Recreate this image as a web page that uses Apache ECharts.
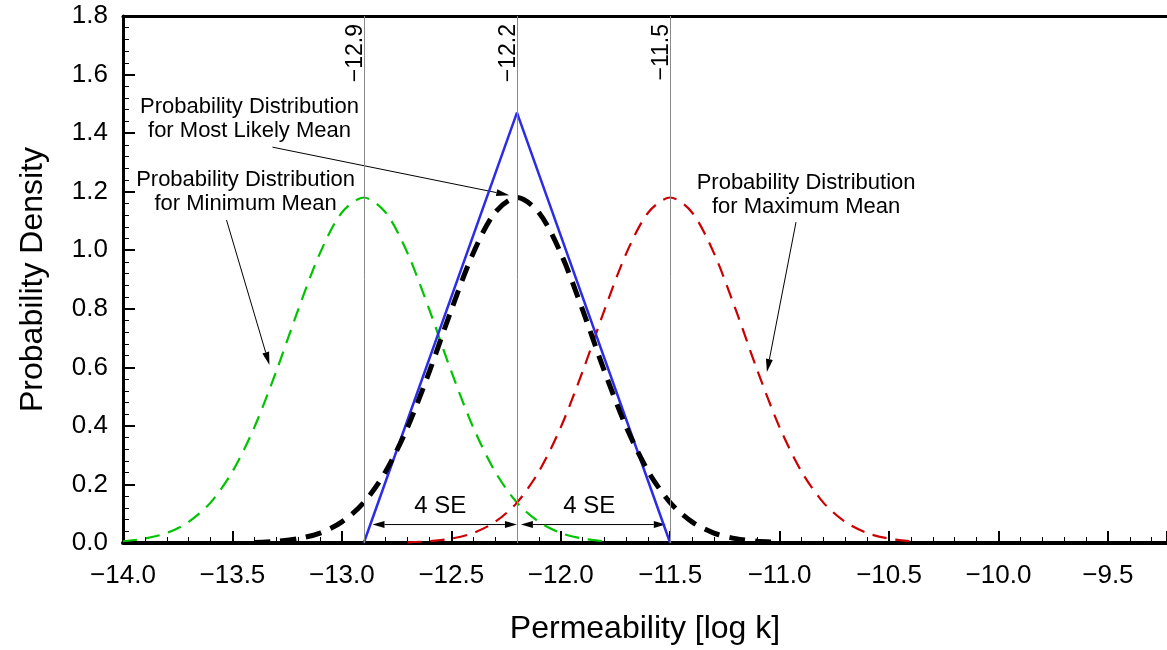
<!DOCTYPE html>
<html><head><meta charset="utf-8">
<script src="https://cdn.jsdelivr.net/npm/echarts@6/dist/echarts.min.js"></script>
<style>html,body{margin:0;padding:0;background:#fff}#c{width:1167px;height:650px}</style>
</head><body><div id="c"></div>
<script>
// ---- data ----
const xRange = [-14, -9.23];
const yRange = [0, 1.8];
const greenX = [-14.0,-13.9,-13.8,-13.7,-13.6,-13.5,-13.4,-13.3,-13.2,-13.1,-13.0,-12.9,-12.8,-12.7,-12.6,-12.5,-12.4,-12.3,-12.2,-12.1,-12.0,-11.9,-11.8];
const greenY = [0.006,0.015,0.034,0.072,0.138,0.244,0.395,0.586,0.796,0.990,1.129,1.180,1.129,0.990,0.796,0.586,0.395,0.244,0.138,0.072,0.034,0.015,0.006];
const blackX = [-13.4,-13.3,-13.2,-13.1,-13.0,-12.9,-12.8,-12.7,-12.6,-12.5,-12.4,-12.3,-12.2,-12.1,-12.0,-11.9,-11.8,-11.7,-11.6,-11.5,-11.4,-11.3,-11.2,-11.1,-11.0];
const blackY = [0.002,0.006,0.015,0.034,0.072,0.138,0.244,0.395,0.586,0.796,0.990,1.129,1.180,1.129,0.990,0.796,0.586,0.395,0.244,0.138,0.072,0.034,0.015,0.006,0.002];
const redX = [-12.7,-12.6,-12.5,-12.4,-12.3,-12.2,-12.1,-12.0,-11.9,-11.8,-11.7,-11.6,-11.5,-11.4,-11.3,-11.2,-11.1,-11.0,-10.9,-10.8,-10.7,-10.6,-10.5,-10.4];
const redY = [0.002,0.006,0.015,0.034,0.072,0.138,0.244,0.395,0.586,0.796,0.990,1.129,1.180,1.129,0.990,0.796,0.586,0.395,0.244,0.138,0.072,0.034,0.015,0.006];
const blueX = [-12.9,-12.2,-11.5];
const blueY = [0, 1.47, 0];
const meanLines = [-12.9, -12.2, -11.5];
const meanLabels = ['\u221212.9', '\u221212.2', '\u221211.5'];
const noteTexts = ['Probability Distribution\nfor Most Likely Mean', 'Probability Distribution\nfor Minimum Mean', 'Probability Distribution\nfor Maximum Mean'];
const seText = '4 SE';

// ---- annotation placement (data coordinates) ----
const notePlace = [
  {at: [-13.422, 1.447], from: [-13.317, 1.352], to: [-12.235, 1.188]},
  {at: [-13.440, 1.200], from: [-13.527, 1.103], to: [-13.331, 0.608]},
  {at: [-10.879, 1.190], from: [-10.925, 1.096], to: [-11.058, 0.584]}
];
const sePlace = [
  {at: [-12.55, 0.124], a: [-12.86, 0.063], b: [-12.2, 0.063]},
  {at: [-11.87, 0.124], a: [-12.182, 0.063], b: [-11.52, 0.063]}
];

const FONT = '"Liberation Sans", Arial, Helvetica, sans-serif';
const zip = (xs, ys) => xs.map((x, i) => [x, ys[i]]);
const fmt = v => (v < 0 ? '\u2212' : '') + Math.abs(v).toFixed(1);

const chart = echarts.init(document.getElementById('c'), null, {renderer: 'canvas'});
const option = {
  animation: false,
  backgroundColor: '#fff',
  grid: {left: 123, right: 0, top: 16, bottom: 107, containLabel: false},
  xAxis: [{
    type: 'value', min: xRange[0], max: xRange[1], interval: 0.5,
    name: 'Permeability [log k]', nameLocation: 'middle', nameGap: 70,
    nameTextStyle: {fontFamily: FONT, fontSize: 32, color: '#000'},
    axisLine: {show: true, onZero: false, lineStyle: {color: '#000', width: 4}},
    axisTick: {show: true, inside: true, length: 12, lineStyle: {color: '#000', width: 2}},
    minorTick: {show: true, splitNumber: 5, length: 6, lineStyle: {color: '#000', width: 1}},
    axisLabel: {fontFamily: FONT, fontSize: 26, color: '#000', margin: 20, formatter: fmt, showMaxLabel: false},
    splitLine: {show: false}, minorSplitLine: {show: false}
  }, {
    type: 'value', position: 'top', min: xRange[0], max: xRange[1],
    axisLine: {show: true, onZero: false, lineStyle: {color: '#000', width: 3}},
    axisTick: {show: false}, axisLabel: {show: false}, splitLine: {show: false}
  }],
  yAxis: {
    type: 'value', min: yRange[0], max: yRange[1], interval: 0.2,
    name: 'Probability Density', nameLocation: 'middle', nameGap: 74,
    nameTextStyle: {fontFamily: FONT, fontSize: 32, color: '#000'},
    axisLine: {show: true, onZero: false, lineStyle: {color: '#000', width: 3}},
    axisTick: {show: true, inside: true, length: 12, lineStyle: {color: '#000', width: 2}},
    minorTick: {show: true, splitNumber: 5, length: 6, lineStyle: {color: '#000', width: 1}},
    axisLabel: {fontFamily: FONT, fontSize: 26, color: '#000', margin: 15, formatter: v => v.toFixed(1)},
    splitLine: {show: false}
  },
  series: [
    {
      type: 'line', name: 'means', data: [], silent: true,
      markLine: {
        silent: true, symbol: 'none', animation: false,
        label: {show: false},
        lineStyle: {color: '#8a8a8a', width: 1, type: 'solid'},
        data: meanLines.map(v => ({xAxis: v}))
      }
    },
    {type: 'line', name: 'min', data: zip(greenX, greenY), smooth: 0.3, showSymbol: false,
     lineStyle: {color: '#00c400', width: 2.2, type: [14, 9]}},
    {type: 'line', name: 'max', data: zip(redX, redY), smooth: 0.3, showSymbol: false,
     lineStyle: {color: '#cc0000', width: 2.2, type: [14, 9]}},
    {type: 'line', name: 'tri', data: zip(blueX, blueY), showSymbol: false,
     lineStyle: {color: '#2b2be8', width: 2.5}},
    {type: 'line', name: 'likely', data: zip(blackX, blackY), smooth: 0.3, showSymbol: false,
     lineStyle: {color: '#000', width: 5, type: [16, 10]}}
  ]
};
chart.setOption(option);

const P = c => chart.convertToPixel({gridIndex: 0}, c);
function arrow(fromC, toC, len, halfW) {
  const a = P(fromC), b = P(toC);
  const dx = b[0] - a[0], dy = b[1] - a[1];
  const L = Math.hypot(dx, dy), ux = dx / L, uy = dy / L;
  const bx = b[0] - ux * len, by = b[1] - uy * len;
  return [
    {type: 'line', silent: true, shape: {x1: a[0], y1: a[1], x2: bx, y2: by}, style: {stroke: '#000', lineWidth: 1}},
    {type: 'polygon', silent: true, shape: {points: [[b[0], b[1]], [bx - uy * halfW, by + ux * halfW], [bx + uy * halfW, by - ux * halfW]]}, style: {fill: '#000'}}
  ];
}
function doubleArrow(aC, bC) {
  const a = P(aC), b = P(bC);
  const len = 12, hw = 3.5;
  return [
    {type: 'line', silent: true, shape: {x1: a[0] + len, y1: a[1], x2: b[0] - len, y2: b[1]}, style: {stroke: '#000', lineWidth: 1}},
    {type: 'polygon', silent: true, shape: {points: [[a[0], a[1]], [a[0] + len, a[1] - hw], [a[0] + len, a[1] + hw]]}, style: {fill: '#000'}},
    {type: 'polygon', silent: true, shape: {points: [[b[0], b[1]], [b[0] - len, b[1] - hw], [b[0] - len, b[1] + hw]]}, style: {fill: '#000'}}
  ];
}
const g = [];
meanLines.forEach((v, i) => {
  const p = P([v, yRange[1]]);
  g.push({type: 'text', silent: true, x: p[0] + 3, y: p[1] + 8, rotation: Math.PI / 2,
    style: {text: meanLabels[i], font: '23px ' + FONT, fill: '#000', align: 'right', verticalAlign: 'bottom', textAlign: 'right', textVerticalAlign: 'bottom'}});
});
notePlace.forEach((n, i) => {
  const p = P(n.at);
  g.push({type: 'text', silent: true, x: p[0], y: p[1],
    style: {text: noteTexts[i], font: '22px ' + FONT, lineHeight: 24, fill: '#000', align: 'center', verticalAlign: 'middle', textAlign: 'center', textVerticalAlign: 'middle'}});
  g.push(...arrow(n.from, n.to, 13, 3.5));
});
sePlace.forEach(s => {
  const p = P(s.at);
  g.push({type: 'text', silent: true, x: p[0], y: p[1],
    style: {text: seText, font: '24px ' + FONT, fill: '#000', align: 'center', verticalAlign: 'middle', textAlign: 'center', textVerticalAlign: 'middle'}});
  g.push(...doubleArrow(s.a, s.b));
});
chart.setOption({graphic: {elements: g}});
</script>
</body></html>
